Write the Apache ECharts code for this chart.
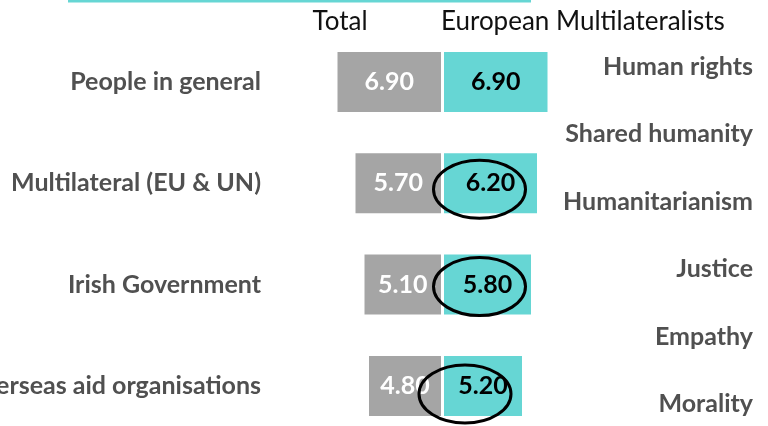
<!DOCTYPE html>
<html>
<head>
<meta charset="utf-8">
<script src="https://cdn.jsdelivr.net/npm/echarts@6/dist/echarts.min.js"></script>
<style>html,body{margin:0;padding:0;background:#fff}#c{width:768px;height:426px}</style>
</head>
<body>
<div id="c"></div>
<script>
const categories = ['People in general', 'Multilateral (EU & UN)', 'Irish Government', 'Overseas aid organisations'];
const totalValues = [6.90, 5.70, 5.10, 4.80];
const euroValues = [6.90, 6.20, 5.80, 5.20];
const valueLabels = ['Human rights', 'Shared humanity', 'Humanitarianism', 'Justice', 'Empathy', 'Morality'];
const seriesNames = ['Total', 'European Multilateralists'];
const circledRows = [1, 2, 3];
const circleOffsets = [[-11, 6], [-8, 2], [-18, 8]];

const FONT = 'Lato';
const GRAY = '#a5a5a5';
const TEAL = '#66d6d4';
const TXT = '#505050';

const chart = echarts.init(document.getElementById('c'), null, {renderer: 'canvas'});
const grids = [
  {left: 291, width: 150, top: 31.3, height: 405.3, outerBoundsMode: 'none', containLabel: false},
  {left: 444, width: 150, top: 31.3, height: 405.3, outerBoundsMode: 'none', containLabel: false},
  {left: 761, width: 1, top: 33, height: 405, outerBoundsMode: 'none', containLabel: false}
];
const hiddenX = (i, inv) => ({type: 'value', gridIndex: i, min: 0, max: 10, inverse: inv, show: false});
chart.setOption({
  animation: false,
  grid: grids,
  xAxis: [hiddenX(0, true), hiddenX(1, false), hiddenX(2, false)],
  yAxis: [
    {type: 'category', gridIndex: 0, data: categories, inverse: true,
     axisLine: {show: false}, axisTick: {show: false},
     axisLabel: {margin: 30, fontFamily: FONT, fontWeight: 'bold', fontSize: 25, color: TXT}},
    {type: 'category', gridIndex: 1, data: categories, inverse: true, show: false},
    {type: 'category', gridIndex: 2, data: valueLabels, inverse: true,
     axisLine: {show: false}, axisTick: {show: false},
     axisLabel: {margin: 8, fontFamily: FONT, fontWeight: 'bold', fontSize: 25, color: TXT}}
  ],
  series: [
    {name: seriesNames[0], type: 'bar', xAxisIndex: 0, yAxisIndex: 0, data: totalValues, barWidth: 60,
     itemStyle: {color: GRAY},
     label: {show: true, position: 'inside', color: '#fff', fontFamily: FONT, fontWeight: 'bold', fontSize: 25,
             formatter: p => p.value.toFixed(2)}},
    {name: seriesNames[1], type: 'bar', xAxisIndex: 1, yAxisIndex: 1, data: euroValues, barWidth: 60,
     itemStyle: {color: TEAL},
     label: {show: true, position: 'inside', color: '#000', fontFamily: FONT, fontWeight: 'bold', fontSize: 25,
             formatter: p => p.value.toFixed(2)}}
  ]
});

const graphics = [
  {type: 'rect', shape: {x: 68, y: 0, width: 463, height: 2.5}, style: {fill: TEAL}},
  {type: 'text', style: {text: seriesNames[0], x: 340, y: 22, textAlign: 'center', textVerticalAlign: 'middle',
    font: '26px ' + FONT, fill: '#111'}},
  {type: 'text', style: {text: seriesNames[1], x: 441, y: 22, textAlign: 'left', textVerticalAlign: 'middle',
    font: '26px ' + FONT, fill: '#111'}}
];
circledRows.forEach((r, k) => {
  const p = chart.convertToPixel({gridIndex: 1}, [euroValues[r] / 2, r]);
  graphics.push({type: 'ellipse', shape: {cx: p[0] + circleOffsets[k][0], cy: p[1] + circleOffsets[k][1], rx: 46, ry: 29},
    style: {fill: 'none', stroke: '#000', lineWidth: 3}, z: 100});
});
chart.setOption({graphic: graphics});
</script>
</body>
</html>
